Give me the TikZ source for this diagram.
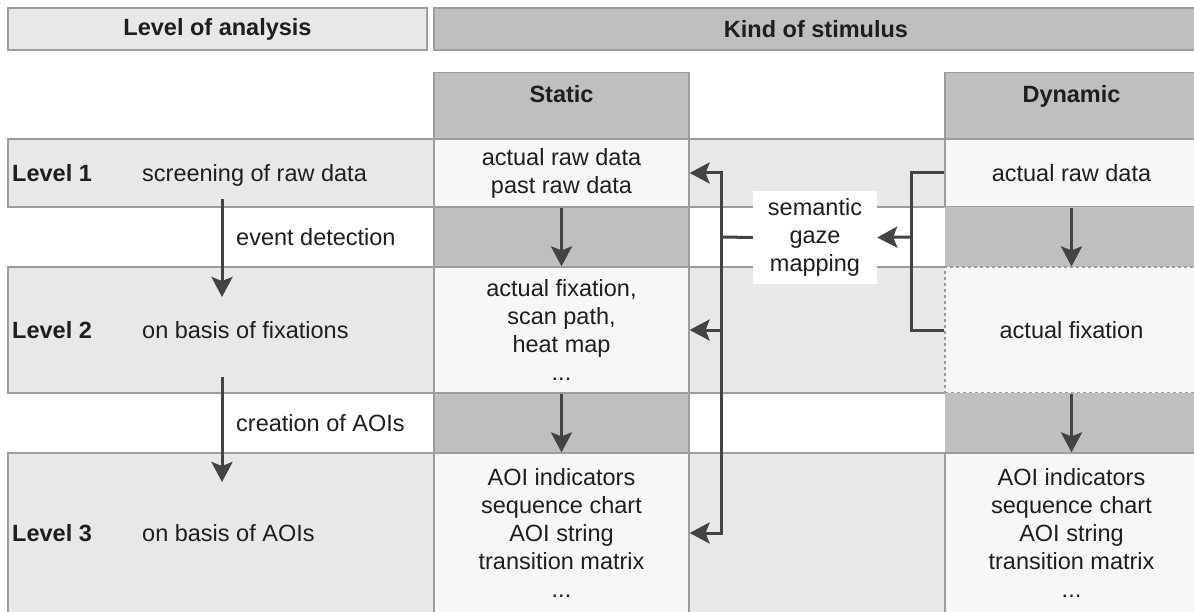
\documentclass[tikz,border=0pt]{standalone}
\usepackage{fontspec}
\setmainfont{Liberation Sans}
\usetikzlibrary{arrows.meta}

\definecolor{bandgray}{HTML}{E8E8E8}
\definecolor{cellgray}{HTML}{F7F7F7}
\definecolor{shadegray}{HTML}{BFBFBF}
\definecolor{rulegray}{HTML}{9C9C9C}
\definecolor{inkgray}{HTML}{434343}
\definecolor{textgray}{HTML}{1E1E1E}

\newcommand{\cellfont}{\fontsize{23.5}{28}\selectfont}
\newcommand{\hdfont}{\fontsize{23.5}{28}\selectfont\bfseries}

\begin{document}
\begin{tikzpicture}[x=1pt, y=-1pt,
  every node/.style={font=\cellfont, text=textgray},
  cell/.style={draw=rulegray, line width=1.2pt, inner sep=0pt, align=center},
  plain/.style={inner sep=0pt, anchor=base west},
  conn/.style={draw=inkgray, line width=3pt},
  tip/.style={conn, -{Stealth[length=20pt, width=21pt, inset=4pt]}}]
\useasboundingbox (0,0) rectangle (1194,612);
\clip (0,0) rectangle (1194,612);

% level bands
\node[cell, fill=bandgray, minimum width=1190pt, minimum height=68pt] (band1) at (603,173) {};
\node[cell, fill=bandgray, minimum width=1190pt, minimum height=126pt] (band2) at (603,330) {};
\node[cell, fill=bandgray, minimum width=1190pt, minimum height=160pt] (band3) at (603,533) {};

% headers
\node[cell, fill=bandgray, minimum width=419pt, minimum height=42pt, font=\hdfont] (loa) at (217.5,29) {Level of analysis};
\node[cell, fill=shadegray, minimum width=764pt, minimum height=42pt, font=\hdfont] (kos) at (816,29) {Kind of stimulus};
\node[cell, fill=shadegray, minimum width=255pt, anchor=north, text height=29.5pt, text depth=37.5pt, font=\hdfont] (static) at (561.5,72) {Static};
\node[cell, fill=shadegray, minimum width=253pt, anchor=north, text height=29.5pt, text depth=37.5pt, font=\hdfont] (dynamic) at (1071.5,72) {Dynamic};

% static stimulus
\node[cell, fill=cellgray, minimum width=255pt, minimum height=68pt] (s1) at (561.5,173) {actual raw data\\past raw data};
\node[cell, fill=shadegray, minimum width=255pt, minimum height=60pt] (sg1) at (561.5,237) {};
\node[cell, fill=cellgray, minimum width=255pt, minimum height=126pt] (s2) at (561.5,330) {actual fixation,\\scan path,\\heat map\\...};
\node[cell, fill=shadegray, minimum width=255pt, minimum height=60pt] (sg2) at (561.5,423) {};
\node[cell, fill=cellgray, minimum width=255pt, minimum height=160pt] (s3) at (561.5,533) {AOI indicators\\sequence chart\\AOI string\\transition matrix\\...};

% dynamic stimulus
\node[cell, fill=cellgray, minimum width=253pt, minimum height=68pt] (d1) at (1071.5,173) {actual raw data};
\node[cell, draw=none, fill=shadegray, minimum width=253pt, minimum height=60pt] (dg1) at (1071.5,237) {};
\node[cell, dashed, fill=cellgray, minimum width=253pt, minimum height=126pt] (d2) at (1071.5,330) {actual fixation};
\node[cell, draw=none, fill=shadegray, minimum width=253pt, minimum height=60pt] (dg2) at (1071.5,423) {};
\node[cell, fill=cellgray, minimum width=253pt, minimum height=160pt] (d3) at (1071.5,533) {AOI indicators\\sequence chart\\AOI string\\transition matrix\\...};

% level of analysis
\node[plain, font=\hdfont] (lev1) at (12,181.4) {Level 1};
\node[plain] (scr) at (142,181.4) {screening of raw data};
\node[plain] (evd) at (236,245.4) {event detection};
\node[plain, font=\hdfont] (lev2) at (12,338.4) {Level 2};
\node[plain] (fix) at (142,338.4) {on basis of fixations};
\node[plain] (cra) at (236,431.4) {creation of AOIs};
\node[plain, font=\hdfont] (lev3) at (12,541.4) {Level 3};
\node[plain] (aoi) at (142,541.4) {on basis of AOIs};

\node[fill=white, minimum width=124pt, minimum height=93pt, align=center, inner sep=0pt] (sgm) at (815,237.5) {semantic\\gaze\\mapping};

\coordinate (ed1) at (222,199);
\coordinate (ed2) at (222,297);
\coordinate (ca1) at (222,377);
\coordinate (ca2) at (222,482);
\coordinate (rj) at (911,237);
\coordinate (lj) at (721,237);

\draw[tip] (ed1) -- (ed2);
\draw[tip] (ca1) -- (ca2);
\draw[tip] (s1) -- (s2);
\draw[tip] (s2) -- (s3);
\draw[tip] (d1) -- (d2);
\draw[tip] (d2) -- (d3);

\draw[conn] (d1.west) -| (rj) |- (d2.west);
\draw[tip] (rj) -- (sgm.east);
\draw[conn] (sgm.west) -- (lj);
\draw[tip] (lj) |- (s1.east);
\draw[tip] (lj) |- (s2.east);
\draw[tip] (lj) |- (s3.east);
\end{tikzpicture}
\end{document}
